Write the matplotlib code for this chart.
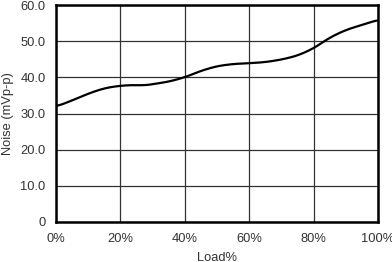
import numpy as np
import matplotlib.pyplot as plt

# Data.
load_pct = [0, 5, 10, 15, 20, 25, 27, 30, 35, 40, 45, 50, 55, 60, 65, 70, 75, 80, 85, 90, 95, 100]
noise_mv = [31.9, 33.6, 35.5, 37.0, 37.7, 37.9, 37.7, 38.1, 38.8, 40.0, 41.8, 43.1, 43.7, 43.9,
            44.2, 44.9, 46.0, 48.0, 51.0, 53.1, 54.5, 55.9]
x_ticks = [0, 20, 40, 60, 80, 100]
x_tick_labels = ["0%", "20%", "40%", "60%", "80%", "100%"]
y_ticks = [0, 10, 20, 30, 40, 50, 60]
y_tick_labels = ["0", "10.0", "20.0", "30.0", "40.0", "50.0", "60.0"]

plt.rcParams['font.family'] = ['Liberation Sans', 'DejaVu Sans']

fig = plt.figure(figsize=(3.92, 2.62), dpi=100)
ax = fig.add_axes([56 / 392, 1 - 222 / 262, 322 / 392, 217 / 262])

# Smooth the hand-read points a bit so the line looks like the original.
xs = np.linspace(0, 100, 400)
ys = np.interp(xs, load_pct, noise_mv)
k = 9
ys_s = np.convolve(np.pad(ys, k, mode='edge'), np.ones(2 * k + 1) / (2 * k + 1), mode='same')[k:-k]
ax.plot(xs, ys_s, color='black', lw=1.6)

ax.set_xlim(0, 100)
ax.set_ylim(0, 60)
ax.set_xticks(x_ticks)
ax.set_xticklabels(x_tick_labels)
ax.set_yticks(y_ticks)
ax.set_yticklabels(y_tick_labels)
ax.tick_params(length=0, labelsize=9.3, colors='#333333', pad=7.5)
ax.tick_params(axis='x', pad=8)
ax.grid(True, color='#333333', lw=0.9)
for s in ax.spines.values():
    s.set_linewidth(1.8)
    s.set_color('black')

ax.set_xlabel("Load%", fontsize=9.3, color='#333333', labelpad=5)
ax.set_ylabel("Noise (mVp-p)", fontsize=9.3, color='#333333')
ax.yaxis.set_label_coords(-42 / 322, 0.5)

fig.savefig("out.png", dpi=100)
